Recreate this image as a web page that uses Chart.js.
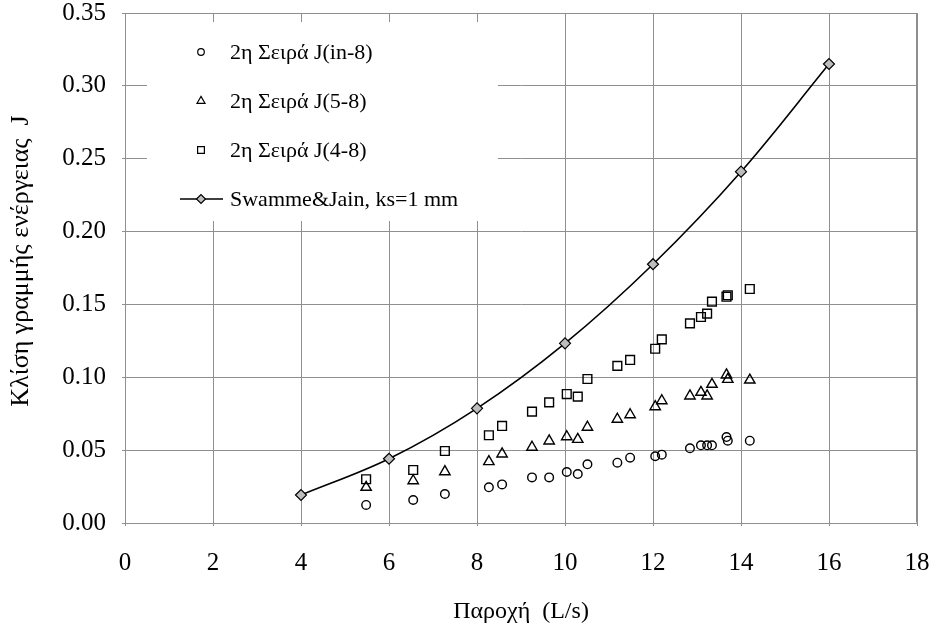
<!DOCTYPE html>
<html>
<head>
<meta charset="utf-8">
<script src="https://cdn.jsdelivr.net/npm/chart.js@4/dist/chart.umd.min.js"></script>
<style>
  html, body { margin: 0; padding: 0; background: #ffffff; }
  #wrap { width: 933px; height: 627px; position: relative; }
</style>
</head>
<body>
<div id="wrap"><canvas id="chart" width="933" height="627"></canvas></div>
<script>
// Flow rate (L/s) of the measured runs
const flow = [5.48, 6.55, 7.27, 8.27, 8.57, 9.25, 9.64, 10.04, 10.29, 10.51, 11.19,
              11.48, 12.05, 12.20, 12.84, 13.09, 13.23, 13.34, 13.67, 13.70, 14.20];

// Measured energy-line slope J, second series
const jIn8 = [0.0124, 0.0158, 0.0199, 0.0245, 0.0265, 0.0313, 0.0313, 0.0350, 0.0336, 0.0403, 0.0414,
              0.0448, 0.0458, 0.0469, 0.0513, 0.0533, 0.0533, 0.0533, 0.0590, 0.0565, 0.0565];
const j58  = [0.0245, 0.0290, 0.0352, 0.0421, 0.0474, 0.0520, 0.0563, 0.0592, 0.0574, 0.0657, 0.0712,
              0.0743, 0.0798, 0.0839, 0.0872, 0.0897, 0.0872, 0.0952, 0.1016, 0.0986, 0.0981];
const j48  = [0.0300, 0.0364, 0.0494, 0.0602, 0.0666, 0.0764, 0.0828, 0.0885, 0.0867, 0.0988, 0.1078,
              0.1119, 0.1196, 0.1260, 0.1370, 0.1414, 0.1437, 0.1519, 0.1553, 0.1563, 0.1606];

// Swamee & Jain prediction, ks = 1 mm
const swFlow = [4, 6, 8, 10, 12, 14, 16];
const swJ    = [0.0192, 0.0441, 0.0787, 0.1233, 0.1776, 0.2411, 0.3150];

const seriesNames = ['2η Σειρά J(in-8)', '2η Σειρά J(5-8)', '2η Σειρά J(4-8)', 'Swamme&Jain, ks=1 mm'];
const xTitle = 'Παροχή  (L/s)';
const yTitle = 'Κλίση γραμμής ενέργειας  J';

const pts = (xs, ys) => xs.map((x, i) => ({ x: x, y: ys[i] }));
const FONT = "'Liberation Serif', 'Times New Roman', serif";
const GRID = '#8f8f8f';

const markerStyle = {
  showLine: false,
  borderColor: '#000000',
  backgroundColor: 'rgba(255,255,255,0)',
  pointBorderWidth: 1.4,
  pointHoverRadius: 5
};

// Legend drawn on a white panel inside the plot area
const innerLegend = {
  id: 'innerLegend',
  afterDatasetsDraw(chart) {
    const ctx = chart.ctx;
    ctx.save();
    ctx.fillStyle = '#ffffff';
    ctx.fillRect(147, 22, 351, 199);
    const rows = [52, 101, 150, 199];
    const markX = 201;
    ctx.font = '22px ' + FONT;
    ctx.textBaseline = 'middle';
    ctx.textAlign = 'left';
    chart.data.datasets.forEach((ds, i) => {
      const y = rows[i];
      if (ds.showLine) {
        ctx.strokeStyle = ds.borderColor;
        ctx.lineWidth = ds.borderWidth;
        ctx.beginPath();
        ctx.moveTo(180, y);
        ctx.lineTo(223, y);
        ctx.stroke();
      }
      ctx.strokeStyle = '#000000';
      ctx.fillStyle = ds.pointBackgroundColor || 'rgba(255,255,255,0)';
      ctx.lineWidth = 1.2;
      Chart.helpers.drawPoint(ctx, {
        pointStyle: ds.pointStyle,
        rotation: 0,
        radius: ds.legendRadius,
        borderWidth: 1.2
      }, markX, y);
      ctx.fillStyle = '#000000';
      ctx.fillText(ds.label, 230, y + 1);
    });
    ctx.restore();
  }
};

// Vertical axis title, set a little above the plot's mid-height
const yAxisTitle = {
  id: 'yAxisTitle',
  afterDraw(chart) {
    const a = chart.chartArea, ctx = chart.ctx;
    ctx.save();
    ctx.translate(21, (a.top + a.bottom) / 2 - 7);
    ctx.rotate(-Math.PI / 2);
    ctx.font = '26px ' + FONT;
    ctx.fillStyle = '#000000';
    ctx.textAlign = 'center';
    ctx.textBaseline = 'middle';
    ctx.fillText(yTitle, 0, 0);
    ctx.restore();
  }
};

new Chart(document.getElementById('chart'), {
  type: 'scatter',
  data: {
    datasets: [
      Object.assign({}, markerStyle, {
        label: seriesNames[0], data: pts(flow, jIn8),
        pointStyle: 'circle', pointRadius: 4.3, legendRadius: 3.3
      }),
      Object.assign({}, markerStyle, {
        label: seriesNames[1], data: pts(flow, j58),
        pointStyle: 'triangle', pointRadius: 6, legendRadius: 4.6
      }),
      Object.assign({}, markerStyle, {
        label: seriesNames[2], data: pts(flow, j48),
        pointStyle: 'rect', pointRadius: 6.2, legendRadius: 4.8
      }),
      {
        label: seriesNames[3], data: pts(swFlow, swJ),
        showLine: true, tension: 0.35,
        borderColor: '#000000', borderWidth: 1.6,
        pointStyle: 'rectRot', pointRadius: 5.5, pointBorderWidth: 1.2,
        pointBackgroundColor: '#bdbdbd', pointBorderColor: '#000000',
        backgroundColor: '#bdbdbd', legendRadius: 4.5
      }
    ]
  },
  options: {
    responsive: false,
    animation: false,
    layout: { padding: { left: 0, right: 16, top: 13, bottom: 0 } },
    plugins: {
      legend: { display: false },
      tooltip: { enabled: false }
    },
    scales: {
      x: {
        type: 'linear', min: 0, max: 18,
        afterFit(scale) {
          scale.height = 104;
          scale.paddingLeft = 0; scale.paddingRight = 0;
        },
        ticks: {
          stepSize: 2, color: '#000000', padding: 22,
          font: { family: FONT, size: 25 }
        },
        grid: { color: GRID, lineWidth: 1, tickLength: 3, drawTicks: true, tickColor: GRID },
        border: { color: GRID, width: 1 },
        title: {
          display: true, text: xTitle, color: '#000000',
          font: { family: FONT, size: 24 }, padding: { top: 0, bottom: 1 }
        }
      },
      y: {
        type: 'linear', min: 0, max: 0.35,
        afterFit(scale) {
          scale.width = 125;
          scale.paddingTop = 0; scale.paddingBottom = 0;
        },
        ticks: {
          stepSize: 0.05, color: '#000000', padding: 16,
          font: { family: FONT, size: 25 },
          callback: (v) => v.toFixed(2)
        },
        grid: { color: GRID, lineWidth: 1, tickLength: 3, drawTicks: true, tickColor: GRID },
        border: { color: GRID, width: 1 },
        title: { display: false }
      }
    }
  },
  plugins: [innerLegend, yAxisTitle, {
    id: 'frame',
    afterDraw(chart) {
      const a = chart.chartArea, ctx = chart.ctx;
      ctx.save();
      ctx.strokeStyle = GRID;
      ctx.lineWidth = 1;
      ctx.beginPath();
      ctx.moveTo(Math.round(a.left) + 0.5, Math.round(a.top) + 0.5);
      ctx.lineTo(Math.round(a.right) - 0.5, Math.round(a.top) + 0.5);
      ctx.lineTo(Math.round(a.right) - 0.5, Math.round(a.bottom) - 0.5);
      ctx.stroke();
      ctx.restore();
    }
  }]
});
</script>
</body>
</html>
